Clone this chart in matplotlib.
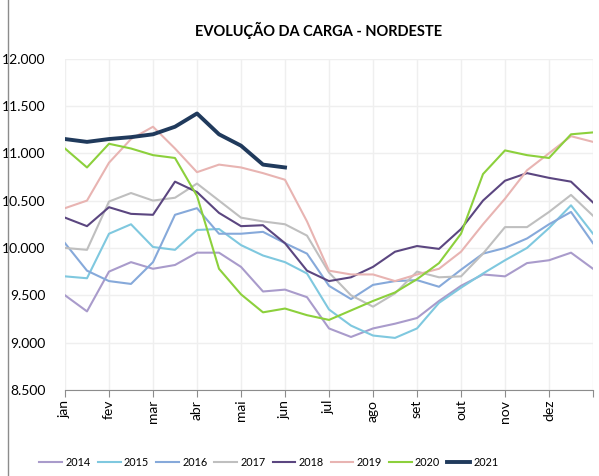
import matplotlib.pyplot as plt
import numpy as np
from matplotlib.ticker import FuncFormatter
from matplotlib.lines import Line2D

plt.rcParams['font.family'] = ['Lato', 'DejaVu Sans']

# posicao em meses (0 = 1 de janeiro), pontos a cada meio mes
meses_x = np.arange(0, 12.01, 0.5)
meses = ["jan", "fev", "mar", "abr", "mai", "jun", "jul", "ago", "set", "out", "nov", "dez"]

carga_2014 = [9500, 9330, 9750, 9850, 9780, 9820, 9950, 9950, 9800, 9540, 9560, 9480, 9150,
              9060, 9150, 9200, 9260, 9440, 9600, 9720, 9700, 9840, 9870, 9950, 9780]
carga_2015 = [9700, 9680, 10150, 10250, 10010, 9980, 10190, 10200, 10030, 9920, 9850, 9730, 9350,
              9180, 9075, 9050, 9150, 9420, 9580, 9730, 9870, 10000, 10210, 10450, 10150]
carga_2016 = [10050, 9760, 9650, 9620, 9850, 10350, 10420, 10150, 10150, 10170, 10050, 9940, 9600,
              9460, 9610, 9650, 9660, 9590, 9770, 9940, 10000, 10100, 10250, 10380, 10050]
carga_2017 = [10000, 9980, 10490, 10580, 10500, 10530, 10680, 10500, 10320, 10280, 10250, 10130, 9740,
              9500, 9380, 9520, 9750, 9690, 9700, 9940, 10220, 10220, 10380, 10560, 10340]
carga_2018 = [10320, 10230, 10430, 10360, 10350, 10700, 10590, 10370, 10230, 10240, 10050, 9760, 9650,
              9690, 9800, 9960, 10020, 9990, 10200, 10500, 10710, 10790, 10740, 10700, 10480]
carga_2019 = [10420, 10500, 10900, 11150, 11280, 11050, 10800, 10880, 10850, 10790, 10720, 10280, 9760,
              9720, 9720, 9650, 9720, 9780, 9960, 10250, 10520, 10820, 11000, 11180, 11120]
carga_2020 = [11050, 10850, 11100, 11050, 10980, 10950, 10550, 9780, 9510, 9320, 9360, 9290, 9240,
              9340, 9440, 9530, 9670, 9840, 10150, 10780, 11030, 10980, 10950, 11200, 11220]
carga_2021 = [11150, 11120, 11150, 11170, 11200, 11280, 11420, 11200, 11080, 10880, 10850]

anos = ["2014", "2015", "2016", "2017", "2018", "2019", "2020", "2021"]
series = [carga_2014, carga_2015, carga_2016, carga_2017, carga_2018, carga_2019, carga_2020, carga_2021]
cores = ["#A99BCB", "#7FC8DF", "#86A9DA", "#BFBFBF", "#5B4680", "#E8B4B2", "#8CD03C", "#203A5C"]

fig = plt.figure(figsize=(5.99, 4.76), dpi=100)
ax = fig.add_axes([0.1085, 0.1807, 0.8815, 0.6963])

for ano, valores, cor in zip(anos, series, cores):
    lw = 2.8 if ano == "2021" else 1.5
    ax.plot(meses_x[:len(valores)], valores, color=cor, lw=lw, label=ano)

ax.set_xlim(0, 12)
ax.set_ylim(8500, 12000)
ax.set_yticks(np.arange(8500, 12001, 500))
ax.yaxis.set_major_formatter(FuncFormatter(lambda v, p: f"{v:,.0f}".replace(",", ".")))
ax.set_xticks(np.arange(0, 13))
ax.set_xticklabels(meses + [""], rotation=90)
ax.grid(True, color="#EFEFEF", lw=1)
ax.set_axisbelow(True)
for lado in ["top", "right", "left"]:
    ax.spines[lado].set_visible(False)
ax.spines["bottom"].set_color("#8C8C8C")
ax.tick_params(axis="y", length=0, labelsize=10, pad=14)
ax.tick_params(axis="x", length=5, color="#8C8C8C", labelsize=10, pad=2)

fig.text(0.532, 0.937, "EVOLUÇÃO DA CARGA - NORDESTE", ha="center", va="center",
         fontsize=10.5, fontweight="bold")

fig.legend(loc="center", bbox_to_anchor=(0.449, 0.029), ncol=8, frameon=False,
           fontsize=7.8, handlelength=2.1, handletextpad=0.3, columnspacing=0.65)

fig.add_artist(Line2D([8 / 599, 8 / 599], [0, 1], transform=fig.transFigure, color="#8C8C8C", lw=1))

fig.savefig("out.png", dpi=100)
